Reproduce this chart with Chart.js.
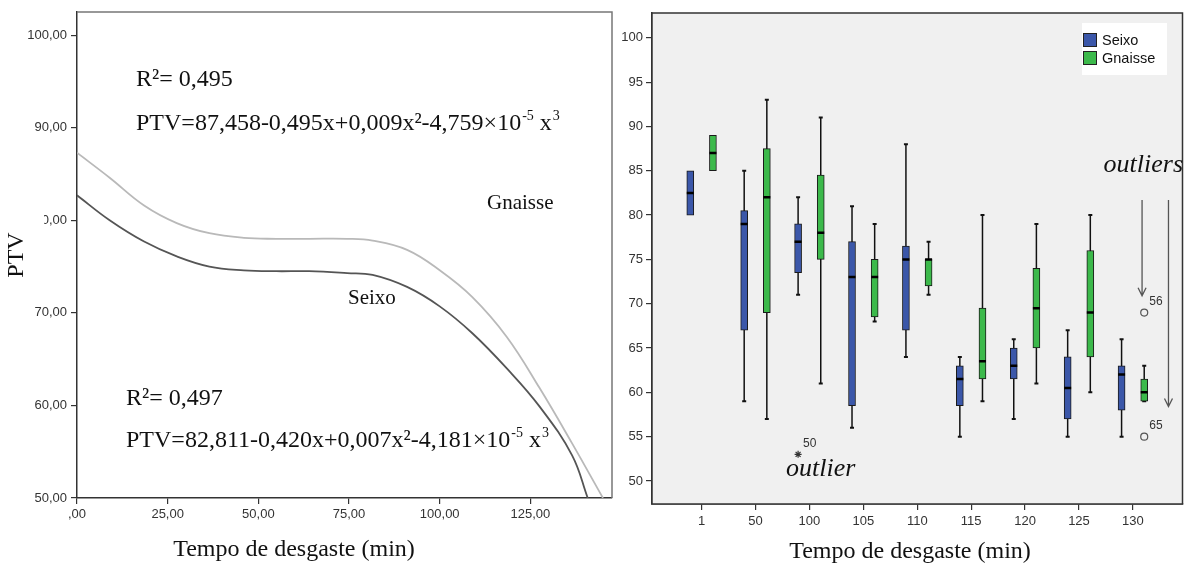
<!DOCTYPE html>
<html>
<head>
<meta charset="utf-8">
<script src="https://cdn.jsdelivr.net/npm/chart.js@4.4.0/dist/chart.umd.min.js"></script>
<style>
    body { margin: 0; background: #fff; }
    #leftChart { position: absolute; left: 0; top: 0; }
    #rightChart { position: absolute; left: 614px; top: 0; }
</style>
</head>
<body>
<canvas id="leftChart" width="614" height="565"></canvas>
<canvas id="rightChart" width="575" height="565"></canvas>
<script>
// left panel - fitted curves (minutes -> PTV)
const gnaisseX = [0, 9, 18.5, 27.5, 36.5, 46, 55, 64, 74.5, 81.5, 91, 100, 109, 118.5, 127.5, 136.5, 145];
const gnaisseY = [87.3, 84.6, 81.6, 79.7, 78.6, 78.1, 78.0, 78.0, 78.0, 77.8, 76.8, 74.6, 71.7, 67.4, 61.9, 55.9, 50.0];
const seixoX = [0, 9, 18.5, 27.5, 36.5, 46, 55, 64, 74.5, 81.5, 91, 100, 109, 118.5, 127.5, 136.5, 140.8];
const seixoY = [82.7, 80.0, 77.7, 76.1, 75.0, 74.6, 74.5, 74.5, 74.3, 74.1, 72.8, 70.7, 67.8, 64.0, 59.9, 54.6, 50.0];
const leftXTicks = [0, 25, 50, 75, 100, 125];
const leftYTicks = [50, 60, 70, 80, 90, 100];

// right panel - box plots per wear time
const categories = ['1', '50', '100', '105', '110', '115', '120', '125', '130'];
const seixoMin = [80, 59, 71, 56, 64, 55, 57, 55, 55];
const seixoQ1 = [80, 67, 73.5, 58.5, 67, 58.5, 61.5, 57, 58];
const seixoMedian = [82.5, 79, 77, 73, 75, 61.5, 63, 60.5, 62];
const seixoQ3 = [85, 80.5, 79, 77, 76.5, 63, 65, 64, 63];
const seixoMax = [85, 85, 82, 81, 88, 64, 66, 67, 66];
const gnaisseMin = [85, 57, 61, 68, 71, 59, 61, 60, 59];
const gnaisseQ1 = [85, 69, 75, 68.5, 72, 61.5, 65, 64, 59];
const gnaisseMedian = [87, 82, 78, 73, 75, 63.5, 69.5, 69, 60];
const gnaisseQ3 = [89, 87.5, 84.5, 75, 75, 69.5, 74, 76, 61.5];
const gnaisseMax = [89, 93, 91, 79, 77, 80, 79, 80, 63];
const rightYTicks = [50, 55, 60, 65, 70, 75, 80, 85, 90, 95, 100];

// outliers: which series, which category, value, case id
const outlierSeries = ['Seixo', 'Gnaisse', 'Gnaisse'];
const outlierCat = [2, 8, 8];
const outlierValue = [53, 69, 55];
const outlierId = ['50', '56', '65'];

const SERIF = '"Liberation Serif", "Times New Roman", serif';
const SANS = '"Liberation Sans", Arial, sans-serif';
const BLUE = '#3b57a9';
const GREEN = '#3cb94b';
const BOX_OFFSET = 0.21;

function toPoints(xs, ys) {
    return xs.map((x, i) => ({ x: x, y: ys[i] }));
}

function fixTicks(values) {
    return function (scale) {
        scale.ticks = values.map(v => ({ value: v }));
    };
}

function commaFormat(v) {
    if (v === 0) return ',00';
    return v.toFixed(2).replace('.', ',');
}

// text with the two small raised parts: "...10" "-5" " x" "3"
function drawEquation(ctx, x, y, main, exp1, mid, exp2) {
    ctx.textAlign = 'left';
    ctx.textBaseline = 'alphabetic';
    ctx.font = '24px ' + SERIF;
    ctx.fillText(main, x, y);
    x += ctx.measureText(main).width;
    ctx.font = '14px ' + SERIF;
    ctx.fillText(exp1, x + 1, y - 10);
    x += ctx.measureText(exp1).width + 1;
    ctx.font = '24px ' + SERIF;
    ctx.fillText(mid, x, y);
    x += ctx.measureText(mid).width;
    ctx.font = '14px ' + SERIF;
    ctx.fillText(exp2, x + 1, y - 10);
}

function drawR2(ctx, text, x, y) {
    ctx.textAlign = 'left';
    ctx.textBaseline = 'alphabetic';
    ctx.font = '24px ' + SERIF;
    ctx.fillText(text, x, y);
}

const leftDecor = {
    id: 'leftDecor',
    afterDraw(chart) {
        const ctx = chart.ctx;
        const a = chart.chartArea;
        ctx.save();
        ctx.strokeStyle = '#777';
        ctx.lineWidth = 1.5;
        ctx.beginPath();
        ctx.moveTo(a.left, a.top);
        ctx.lineTo(a.right, a.top);
        ctx.lineTo(a.right, a.bottom);
        ctx.stroke();

        ctx.fillStyle = '#111';
        drawR2(ctx, 'R\u00b2= 0,495', 136, 86);
        drawEquation(ctx, 136, 130, 'PTV=87,458-0,495x+0,009x\u00b2-4,759\u00d710', '-5', ' x', '3');
        drawR2(ctx, 'R\u00b2= 0,497', 126, 405);
        drawEquation(ctx, 126, 447, 'PTV=82,811-0,420x+0,007x\u00b2-4,181\u00d710', '-5', ' x', '3');

        ctx.font = '21px ' + SERIF;
        ctx.textBaseline = 'middle';
        ctx.fillText('Gnaisse', 487, 203);
        ctx.fillText('Seixo', 348, 298);

        // y title sits on a white box that hides part of the 80,00 label
        ctx.fillStyle = '#fff';
        ctx.fillRect(0, 205, 44, 95);
        ctx.fillStyle = '#111';
        ctx.save();
        ctx.translate(17, 255);
        ctx.rotate(-Math.PI / 2);
        ctx.textAlign = 'center';
        ctx.font = '24px ' + SERIF;
        ctx.fillText('PTV', 0, 0);
        ctx.restore();

        ctx.textAlign = 'center';
        ctx.font = '24px ' + SERIF;
        ctx.fillText('Tempo de desgaste (min)', 294, 550);
        ctx.restore();
    }
};

new Chart(document.getElementById('leftChart'), {
    type: 'scatter',
    data: {
        datasets: [
            {
                label: 'Gnaisse',
                data: toPoints(gnaisseX, gnaisseY),
                showLine: true,
                borderColor: '#b9b9b9',
                borderWidth: 1.8,
                pointRadius: 0,
                tension: 0.4
            },
            {
                label: 'Seixo',
                data: toPoints(seixoX, seixoY),
                showLine: true,
                borderColor: '#555',
                borderWidth: 1.8,
                pointRadius: 0,
                tension: 0.4
            }
        ]
    },
    options: {
        responsive: false,
        animation: false,
        layout: { padding: { top: 12, right: 2, left: 0, bottom: 0 } },
        plugins: { legend: { display: false }, tooltip: { enabled: false } },
        scales: {
            x: {
                type: 'linear',
                min: 0,
                max: 147.5,
                afterBuildTicks: fixTicks(leftXTicks),
                afterFit: (s) => { s.height = 67; },
                grid: { drawOnChartArea: false, tickLength: 6, color: '#333', lineWidth: 1.2 },
                border: { color: '#333', width: 1.5 },
                ticks: { callback: commaFormat, color: '#333', padding: 3, maxRotation: 0, font: { family: SANS, size: 13 } }
            },
            y: {
                min: 50,
                max: 102.5,
                afterBuildTicks: fixTicks(leftYTicks),
                afterFit: (s) => { s.width = 77; },
                grid: { drawOnChartArea: false, tickLength: 6, color: '#333', lineWidth: 1.2 },
                border: { color: '#333', width: 1.5 },
                ticks: { callback: commaFormat, color: '#333', padding: 4, font: { family: SANS, size: 13 } }
            }
        }
    },
    plugins: [leftDecor]
});

function boxData(q1, q3, off) {
    return categories.map((c, i) => ({ x: i + off, y: [q1[i], q3[i]] }));
}

function whiskerData(min, q1, q3, max, off) {
    const pts = [];
    categories.forEach((c, i) => {
        if (min[i] === q1[i] && max[i] === q3[i]) return;
        pts.push({ x: i + off, y: min[i] }, { x: i + off, y: max[i] }, { x: i + off, y: null });
    });
    return pts;
}

function medianData(med, off) {
    return categories.map((c, i) => ({ x: i + off, y: med[i] }));
}

function outlierData(series) {
    const pts = [];
    outlierValue.forEach((v, i) => {
        if (outlierSeries[i] !== series) return;
        const off = series === 'Seixo' ? -BOX_OFFSET : BOX_OFFSET;
        pts.push({ x: outlierCat[i] + off, y: v });
    });
    return pts;
}

function whiskerSet(data) {
    return {
        type: 'scatter', data: data, showLine: true, spanGaps: false, order: 4,
        borderColor: '#111', borderWidth: 1.5,
        pointStyle: 'line', pointRadius: 2, pointBorderWidth: 2, pointBorderColor: '#111'
    };
}

function medianSet(data) {
    return {
        type: 'scatter', data: data, order: 1,
        borderColor: '#000', pointStyle: 'line', pointRadius: 3.5,
        pointBorderWidth: 2.5, pointBorderColor: '#000'
    };
}

function boxSet(label, data, color) {
    return {
        type: 'bar', label: label, data: data, order: 2, grouped: false,
        backgroundColor: color, borderColor: '#1a1a1a', borderWidth: 1,
        borderSkipped: false, barThickness: 7
    };
}

const rightDecor = {
    id: 'rightDecor',
    beforeDatasetsDraw(chart) {
        const ctx = chart.ctx;
        const a = chart.chartArea;
        ctx.save();
        ctx.fillStyle = '#f0f0f0';
        ctx.fillRect(a.left, a.top, a.right - a.left, a.bottom - a.top);
        ctx.restore();
    },
    afterDraw(chart) {
        const ctx = chart.ctx;
        const a = chart.chartArea;
        const xs = chart.scales.x;
        const ys = chart.scales.y;
        ctx.save();
        ctx.strokeStyle = '#333';
        ctx.lineWidth = 1.5;
        ctx.strokeRect(a.left, a.top, a.right - a.left, a.bottom - a.top);

        // legend
        ctx.fillStyle = '#fff';
        ctx.fillRect(468, 23, 85, 52);
        [['Seixo', BLUE, 40], ['Gnaisse', GREEN, 58]].forEach(([name, color, y]) => {
            ctx.fillStyle = color;
            ctx.fillRect(469, y - 7, 14, 14);
            ctx.strokeStyle = '#222';
            ctx.lineWidth = 1;
            ctx.strokeRect(469.5, y - 6.5, 13, 13);
            ctx.fillStyle = '#111';
            ctx.font = '14.5px ' + SANS;
            ctx.textAlign = 'left';
            ctx.textBaseline = 'middle';
            ctx.fillText(name, 488, y + 1);
        });

        // case numbers next to outliers
        ctx.fillStyle = '#333';
        ctx.font = '12px ' + SANS;
        outlierValue.forEach((v, i) => {
            const off = outlierSeries[i] === 'Seixo' ? -BOX_OFFSET : BOX_OFFSET;
            const px = xs.getPixelForValue(outlierCat[i] + off);
            const py = ys.getPixelForValue(v);
            ctx.fillText(outlierId[i], px + 5, py - 11);
        });

        // annotation arrows
        ctx.strokeStyle = '#555';
        ctx.lineWidth = 1.3;
        [[8.17, 81.7, 70.9], [8.66, 81.7, 58.4]].forEach(([x, y0, y1]) => {
            const px = xs.getPixelForValue(x);
            const p0 = ys.getPixelForValue(y0);
            const p1 = ys.getPixelForValue(y1);
            ctx.beginPath();
            ctx.moveTo(px, p0);
            ctx.lineTo(px, p1);
            ctx.moveTo(px - 4, p1 - 8);
            ctx.lineTo(px, p1);
            ctx.lineTo(px + 4, p1 - 8);
            ctx.stroke();
        });

        ctx.fillStyle = '#111';
        ctx.font = 'italic 26px ' + SERIF;
        ctx.textAlign = 'right';
        ctx.textBaseline = 'middle';
        ctx.fillText('outliers', 569, 165);
        ctx.textAlign = 'left';
        ctx.fillText('outlier', 172, 469);

        ctx.textAlign = 'center';
        ctx.font = '24px ' + SERIF;
        ctx.fillText('Tempo de desgaste (min)', 296, 552);
        ctx.restore();
    }
};

new Chart(document.getElementById('rightChart'), {
    type: 'bar',
    data: {
        datasets: [
            whiskerSet(whiskerData(seixoMin, seixoQ1, seixoQ3, seixoMax, -BOX_OFFSET)),
            whiskerSet(whiskerData(gnaisseMin, gnaisseQ1, gnaisseQ3, gnaisseMax, BOX_OFFSET)),
            boxSet('Seixo', boxData(seixoQ1, seixoQ3, -BOX_OFFSET), BLUE),
            boxSet('Gnaisse', boxData(gnaisseQ1, gnaisseQ3, BOX_OFFSET), GREEN),
            medianSet(medianData(seixoMedian, -BOX_OFFSET)),
            medianSet(medianData(gnaisseMedian, BOX_OFFSET)),
            {
                type: 'scatter', data: outlierData('Seixo'), order: 0,
                pointStyle: 'star', pointRadius: 3.5, pointBorderWidth: 1.2, pointBorderColor: '#333', borderColor: '#333'
            },
            {
                type: 'scatter', data: outlierData('Gnaisse'), order: 0,
                pointStyle: 'circle', pointRadius: 3.5, pointBorderWidth: 1.2,
                pointBorderColor: '#555', borderColor: '#555', pointBackgroundColor: 'rgba(0,0,0,0)'
            }
        ]
    },
    options: {
        responsive: false,
        animation: false,
        layout: { padding: { top: 13, right: 1, left: 0, bottom: 0 } },
        plugins: { legend: { display: false }, tooltip: { enabled: false } },
        scales: {
            x: {
                type: 'linear',
                offset: false,
                min: -0.92,
                max: 8.92,
                afterBuildTicks: fixTicks(categories.map((c, i) => i)),
                afterFit: (s) => { s.height = 61; },
                grid: { offset: false, drawOnChartArea: false, tickLength: 6, color: '#333', lineWidth: 1.2 },
                border: { color: '#333', width: 1.5 },
                ticks: { callback: (v) => categories[v], color: '#333', padding: 4, maxRotation: 0, font: { family: SANS, size: 13 } }
            },
            y: {
                min: 47.4,
                max: 102.8,
                afterBuildTicks: fixTicks(rightYTicks),
                afterFit: (s) => { s.width = 38; },
                grid: { drawOnChartArea: false, tickLength: 6, color: '#333', lineWidth: 1.2 },
                border: { color: '#333', width: 1.5 },
                ticks: { color: '#333', padding: 3, font: { family: SANS, size: 13 } }
            }
        }
    },
    plugins: [rightDecor]
});
</script>
</body>
</html>
